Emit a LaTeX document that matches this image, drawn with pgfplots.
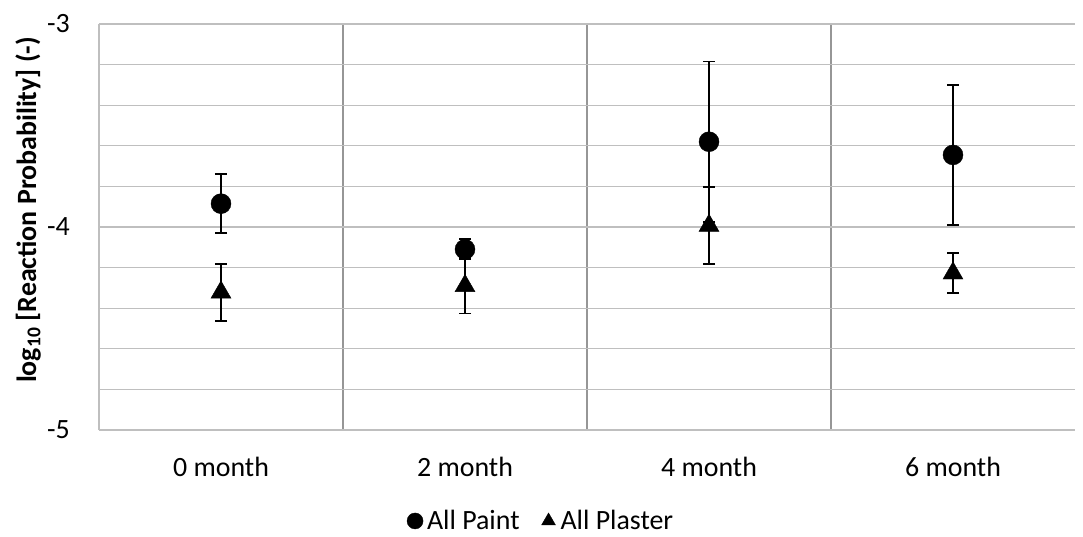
\documentclass[border=0pt]{standalone}
\usepackage{pgfplots}
\pgfplotsset{compat=1.18}
\usepackage{pgfplotstable}
\usepackage{fontspec}
\setmainfont{Carlito}
\definecolor{gridgray}{RGB}{191,191,191}
\definecolor{divgray}{RGB}{150,150,150}
\pgfplotstableread{
x y err
0 -3.885 0.145
1 -4.110 0.049
2 -3.580 0.395
3 -3.645 0.345
}\paint
\pgfplotstableread{
x y err
0 -4.322 0.141
1 -4.290 0.136
2 -3.993 0.190
3 -4.228 0.098
}\plaster
\begin{document}
\begin{tikzpicture}
\useasboundingbox (-99bp,-107bp) rectangle (984bp,430bp);
\begin{axis}[
  at={(0,0)}, anchor=south west,
  scale only axis, width=976bp, height=406bp,
  xmin=-0.5, xmax=3.5, ymin=-5, ymax=-3,
  axis lines*=left,
  axis line style={draw=gridgray, line width=1.3bp},
  xtick={0,1,2,3},
  xticklabels={0 month,2 month,4 month,6 month},
  minor xtick={0.5,1.5,2.5},
  ytick={-5,-4,-3},
  yticklabels={-5,-4,-3},
  minor ytick={-4.8,-4.6,-4.4,-4.2,-3.8,-3.6,-3.4,-3.2},
  ymajorgrids, yminorgrids, xminorgrids,
  major grid style={draw=gridgray, line width=1.3bp},
  minor y grid style={draw=gridgray, line width=1.3bp},
  minor x grid style={draw=divgray, line width=1.1bp},
  major tick length=0pt, minor tick length=0pt,
  tick label style={font=\fontsize{28}{33}\selectfont, text=black},
  xticklabel style={anchor=north, inner sep=0pt, yshift=-27bp},
  yticklabel style={anchor=east, inner sep=0pt, xshift=-29bp},
  ylabel={\textbf{log\textsubscript{10} [Reaction Probability] (-)}},
  ylabel style={font=\fontsize{28}{33}\selectfont, at={(axis description cs:-0.0727,0.542)}, anchor=center},
  legend style={at={(axis description cs:0.453,-0.224)}, anchor=center, draw=none, fill=none,
    font=\fontsize{28}{33}\selectfont, legend columns=2,
    /tikz/every even column/.append style={column sep=20bp}},
  legend cell align=left,
  legend image code/.code={\path[draw=none,fill=none] (0bp,0bp) -- (16bp,0bp); \draw[#1, mark size=8bp] plot coordinates {(6bp,0bp)};},
  clip=false,
]
\addplot[only marks, mark=*, mark size=10bp, black,
  error bars/.cd, y dir=both, y explicit,
  error bar style={line width=1.8bp, black},
  error mark options={rotate=90, mark size=6bp, line width=1.8bp, black}]
  table[x=x, y=y, y error=err] {\paint};
\addlegendentry{All Paint}
\addplot[only marks, mark=triangle*, mark size=11.5bp, black,
  error bars/.cd, y dir=both, y explicit,
  error bar style={line width=1.8bp, black},
  error mark options={rotate=90, mark size=6bp, line width=1.8bp, black}]
  table[x=x, y=y, y error=err] {\plaster};
\addlegendentry{All Plaster}
\end{axis}
\end{tikzpicture}
\end{document}
